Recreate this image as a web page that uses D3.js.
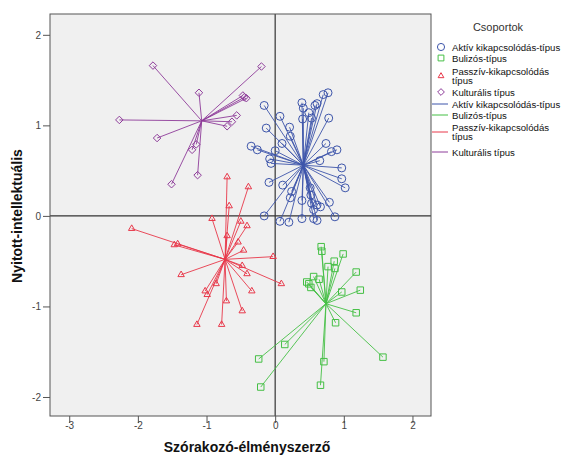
<!DOCTYPE html>
<html><head><meta charset="utf-8">
<script src="https://cdn.jsdelivr.net/npm/d3@7"></script>
<style>body{margin:0;background:#fff}svg{display:block;font-family:"Liberation Sans",Arial,sans-serif}</style>
</head><body><svg id="c" width="563" height="460"></svg>
<script>
const groups = ["Aktív kikapcsolódás-típus","Bulizós-típus","Passzív-kikapcsolódás típus","Kulturális típus"];
const xTicks = [-3,-2,-1,0,1,2];
const yTicks = [-2,-1,0,1,2];
const centroids = [[0.41,0.56],[0.74,-0.97],[-0.73,-0.48],[-1.07,1.05]];
const aktiv = [[-0.16,1.22],[0.07,1.10],[-0.13,0.97],[0.21,0.98],[0.22,0.88],[0.10,0.80],[-0.35,0.77],[-0.26,0.73],[0.00,0.72],[-0.08,0.63],[-0.06,0.58],[0.39,1.25],[0.41,1.19],[0.49,1.14],[0.40,1.07],[0.53,1.08],[0.58,1.22],[0.61,1.24],[0.70,1.34],[0.77,1.36],[0.78,1.08],[0.74,0.80],[0.82,0.71],[0.90,0.73],[0.65,0.61],[0.97,0.53],[0.97,0.41],[1.02,0.31],[-0.09,0.37],[0.11,0.34],[0.24,0.27],[0.22,0.20],[0.39,0.17],[0.52,0.23],[0.53,0.14],[0.61,0.12],[0.66,0.10],[0.79,0.15],[-0.16,0.00],[0.07,-0.06],[0.20,-0.07],[0.39,-0.03],[0.56,-0.03],[0.61,-0.05],[0.87,-0.01],[0.56,0.07],[0.51,0.31]];
const bulizos = [[0.67,-0.34],[0.68,-0.39],[0.99,-0.42],[0.86,-0.50],[0.77,-0.56],[0.87,-0.58],[1.18,-0.62],[0.56,-0.67],[0.64,-0.70],[0.46,-0.73],[0.49,-0.75],[0.52,-0.79],[1.24,-0.82],[0.97,-0.84],[1.18,-1.07],[0.88,-1.18],[0.14,-1.42],[-0.24,-1.58],[1.57,-1.56],[0.71,-1.61],[-0.21,-1.89],[0.66,-1.87]];
const passziv = [[-0.70,0.43],[-0.39,0.32],[-0.67,0.11],[-0.92,-0.03],[-0.50,-0.06],[-0.41,-0.11],[-0.70,-0.22],[-0.54,-0.29],[-0.46,-0.38],[-2.09,-0.14],[-1.47,-0.32],[-1.42,-0.31],[-0.03,-0.45],[-1.37,-0.65],[-0.48,-0.55],[-0.41,-0.64],[0.09,-0.75],[-0.34,-0.83],[-0.86,-0.75],[-1.02,-0.83],[-0.99,-0.87],[-0.71,-0.94],[-0.48,-1.05],[-1.14,-1.20],[-0.78,-1.20]];
const kulturalis = [[-1.78,1.66],[-0.20,1.65],[-1.11,1.36],[-0.47,1.33],[-0.42,1.30],[-0.45,1.31],[-2.27,1.06],[-0.56,1.11],[-0.63,1.04],[-0.70,0.99],[-1.72,0.86],[-1.15,0.79],[-1.21,0.73],[-1.13,0.45],[-1.51,0.35]];
const seriesPoints = [aktiv,bulizos,passziv,kulturalis];
const colors = ["#3d55aa","#45bf45","#e8384a","#8e3c9a"];
const shapes = [d3.symbolCircle,d3.symbolSquare,d3.symbolTriangle,d3.symbolDiamond2 || d3.symbolDiamond];
const sizes = [50,42,18,36];

const svg = d3.select("#c");
const L=50,R=431,T=14,B=416;
const x = d3.scaleLinear().domain([-3.28,2.27]).range([L,R]);
const y = d3.scaleLinear().domain([-2.21,2.23]).range([B,T]);

svg.append("rect").attr("x",L).attr("y",T).attr("width",R-L).attr("height",B-T).attr("fill","#f0f0f0");

svg.append("line").attr("x1",x(0)).attr("x2",x(0)).attr("y1",T).attr("y2",B).attr("stroke","#333").attr("stroke-width",1.2);
svg.append("line").attr("x1",L).attr("x2",R).attr("y1",y(0)).attr("y2",y(0)).attr("stroke","#333").attr("stroke-width",1.2);

seriesPoints.forEach((pts,i)=>{
  const g = svg.append("g");
  const c = centroids[i];
  g.selectAll("line").data(pts).join("line")
    .attr("x1",x(c[0])).attr("y1",y(c[1]))
    .attr("x2",d=>x(d[0])).attr("y2",d=>y(d[1]))
    .attr("stroke",colors[i]).attr("stroke-width",0.9);
  g.selectAll("path").data(pts).join("path")
    .attr("transform",d=>`translate(${x(d[0])},${y(d[1])})`)
    .attr("d",d3.symbol(shapes[i],sizes[i]))
    .attr("fill","none").attr("stroke",colors[i]).attr("stroke-width",1);
});

svg.append("rect").attr("x",L).attr("y",T).attr("width",R-L).attr("height",B-T).attr("fill","none").attr("stroke","#555").attr("stroke-width",1);

const xa = svg.append("g").attr("transform",`translate(0,${B})`)
  .call(d3.axisBottom(x).tickValues(xTicks).tickSize(7).tickFormat(d=>String(d)));
const ya = svg.append("g").attr("transform",`translate(${L},0)`)
  .call(d3.axisLeft(y).tickValues(yTicks).tickSize(7).tickFormat(d=>String(d)));
[xa,ya].forEach(a=>{
  a.select(".domain").remove();
  a.selectAll(".tick line").attr("stroke","#555");
  a.selectAll("text").attr("fill","#444").style("font-size","10px").style("font-family","Liberation Sans, Arial, sans-serif");
});
xa.selectAll("text").attr("dy","0.3em").attr("y",10);
ya.selectAll("text").attr("x",-9);

svg.append("text").attr("x",247).attr("y",452).attr("text-anchor","middle")
  .style("font-size","14px").style("font-weight","bold").attr("fill","#111").text("Szórakozó-élményszerző");
svg.append("text").attr("transform",`translate(22,216) rotate(-90)`).attr("text-anchor","middle")
  .style("font-size","14px").style("font-weight","bold").attr("fill","#111").text("Nyitott-intellektuális");

const lg = svg.append("g");
lg.append("text").attr("x",498).attr("y",31).attr("text-anchor","middle").style("font-size","11px").attr("fill","#333").text("Csoportok");
const markerY = [47,58,76,92];
const lineY = [104,115,132,152];
const fs = "9.6px";
function label(lines, yc){
  const t = lg.append("text").attr("x",452).style("font-size",fs).attr("fill","#111");
  const n = lines.length;
  lines.forEach((s,k)=>{
    t.append("tspan").attr("x",452).attr("y",yc + (k-(n-1)/2)*9.5 + 3.5).text(s);
  });
}
groups.forEach((g,i)=>{
  lg.append("path").attr("transform",`translate(441,${markerY[i]})`)
    .attr("d",d3.symbol(shapes[i],sizes[i]*0.8)).attr("fill","none").attr("stroke",colors[i]).attr("stroke-width",1);
  const parts = g==="Passzív-kikapcsolódás típus" ? ["Passzív-kikapcsolódás","típus"] : [g];
  label(parts, markerY[i]);
});
groups.forEach((g,i)=>{
  lg.append("line").attr("x1",432).attr("x2",448).attr("y1",lineY[i]).attr("y2",lineY[i]).attr("stroke",colors[i]).attr("stroke-width",1);
  const parts = g==="Passzív-kikapcsolódás típus" ? ["Passzív-kikapcsolódás","típus"] : [g];
  label(parts, lineY[i]);
});
</script></body></html>
